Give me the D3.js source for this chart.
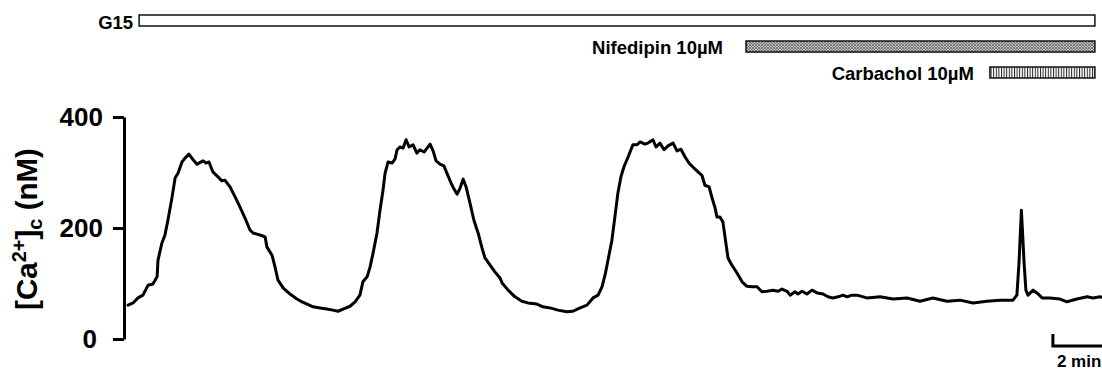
<!DOCTYPE html>
<html>
<head>
<meta charset="utf-8">
<script src="https://cdn.jsdelivr.net/npm/d3@7"></script>
<style>
  html, body { margin: 0; padding: 0; background: #fff; }
  svg { display: block; font-family: "Liberation Sans", Arial, sans-serif; font-weight: bold; }
</style>
</head>
<body>
<svg id="chart" width="1102" height="371"></svg>
<script>
// Cytosolic Ca2+ recording: time in minutes, concentration in nM
const timeMin = [
  0, 0.17, 0.33, 0.5, 0.67, 0.83, 0.97, 1.0, 1.13, 1.23, 1.33, 1.47, 1.57, 1.67, 1.8, 1.9, 2.03,
  2.17, 2.3, 2.5, 2.6, 2.7, 2.83, 3.0, 3.13, 3.23, 3.4, 3.57, 3.73, 3.9, 4.07, 4.17, 4.3, 4.47,
  4.57, 4.63, 4.8, 4.9, 5.0, 5.17, 5.4, 5.63, 5.8, 5.97, 6.17, 6.4, 6.63, 6.83, 7.0, 7.17, 7.4,
  7.57, 7.73, 7.83, 7.97, 8.07, 8.17, 8.3, 8.4, 8.5, 8.57, 8.67, 8.8, 8.9, 8.97, 9.07, 9.17, 9.27,
  9.37, 9.5, 9.63, 9.73, 9.87, 9.97, 10.07, 10.17, 10.27, 10.4, 10.53, 10.63, 10.73, 10.83, 10.97,
  11.07, 11.17, 11.27, 11.4, 11.53, 11.67, 11.8, 11.9, 12.07, 12.23, 12.4, 12.47, 12.67, 12.9,
  13.13, 13.33, 13.63, 13.83, 14.07, 14.33, 14.63, 14.83, 15.07, 15.3, 15.5, 15.67, 15.8, 15.9,
  16.0, 16.13, 16.23, 16.33, 16.43, 16.53, 16.67, 16.83, 16.97, 17.07, 17.23, 17.33, 17.5, 17.6,
  17.73, 17.87, 18.0, 18.17, 18.3, 18.43, 18.57, 18.7, 18.83, 19.0, 19.13, 19.23, 19.37, 19.47,
  19.57, 19.63, 19.73, 19.83, 19.9, 20.0, 20.13, 20.3, 20.47, 20.63, 20.8, 20.97, 21.13, 21.3,
  21.5, 21.67, 21.8, 21.97, 22.07, 22.23, 22.33, 22.47, 22.63, 22.8, 22.97, 23.17, 23.33, 23.5,
  23.67, 23.83, 23.97, 24.13, 24.3, 24.63, 25.07, 25.5, 25.97, 26.4, 26.83, 27.3, 27.73, 28.17,
  28.63, 29.07, 29.5, 29.63, 29.7, 29.78, 29.87, 29.93, 30.0, 30.17, 30.3, 30.47, 30.73, 31.07,
  31.3, 31.63, 31.97, 32.17, 32.4, 32.6
];
const caNM = [
  61, 65, 74, 79, 97, 99, 112, 142, 173, 187, 214, 256, 290, 299, 319, 326, 333,
  323, 315, 321, 317, 319, 301, 292, 285, 286, 274, 256, 238, 218, 196, 191, 189, 186,
  184, 166, 151, 130, 106, 92, 81, 72, 67, 63, 58, 56, 54, 52, 50, 54, 59,
  67, 79, 103, 112, 130, 155, 191, 232, 268, 299, 319, 317, 324, 341, 346, 344, 359,
  346, 350, 335, 341, 337, 344, 351, 339, 321, 315, 312, 299, 286, 274, 261,
  272, 288, 274, 245, 214, 191, 164, 146, 133, 121, 110, 101, 88, 76,
  68, 65, 63, 58, 56, 52, 49, 50, 56, 61, 74, 79, 94, 115,
  142, 178, 220, 263, 292, 310, 328, 350, 350, 355, 351, 353, 359, 346,
  353, 341, 348, 353, 339, 342, 328, 317, 310, 301, 295, 277, 274, 254,
  236, 220, 220, 211, 184, 146, 133, 119, 103, 95, 94, 94, 85, 86,
  88, 86, 90, 86, 79, 85, 81, 86, 81, 88, 83, 81, 76, 74,
  76, 79, 76, 79, 79, 74, 76, 72, 74, 68, 74, 68, 70, 65,
  68, 70, 70, 79, 137, 232, 137, 88, 79, 88, 83, 74, 74, 72,
  67, 72, 76, 74, 76, 74
];

// Y axis ticks
const yTicks = [0, 200, 400];

// Treatment bars: label, start and end time (min)
const treatLabels = ["G15", "Nifedipin 10\u00B5M", "Carbachol 10\u00B5M"];
const treatStart = [0.37, 20.6, 28.73];
const treatEnd = [32.23, 32.23, 32.23];
const treatFills = ["#ffffff", "url(#hatchGray)", "url(#stripesV)"];

// Time scale bar
const scaleBarMin = 2;
const scaleBarStart = 30.83;
const scaleBarLabel = "2 min";

const svg = d3.select("#chart");

const x = d3.scaleLinear().domain([0, 32]).range([128, 1088]);
const y = d3.scaleLinear().domain([0, 400]).range([339, 117]);

// Patterns for the treatment bars
const defs = svg.append("defs");
const pg = defs.append("pattern").attr("id", "hatchGray")
  .attr("patternUnits", "userSpaceOnUse").attr("width", 3).attr("height", 3);
pg.append("rect").attr("width", 3).attr("height", 3).attr("fill", "#bdbdbd");
pg.append("path").attr("d", "M0,0L3,3M3,0L0,3").attr("stroke", "#606060").attr("stroke-width", 0.7);

const ps = defs.append("pattern").attr("id", "stripesV")
  .attr("patternUnits", "userSpaceOnUse").attr("width", 2.6).attr("height", 4);
ps.append("rect").attr("width", 2.6).attr("height", 4).attr("fill", "#ffffff");
ps.append("rect").attr("width", 1).attr("height", 4).attr("fill", "#222");

// Treatment bars
const barTop = [15, 41, 67];
const barH = 11;
const labelBase = [29, 54, 80];
const labelGap = [6, 23, 16];
const treat = svg.append("g");
treatLabels.forEach((lab, i) => {
  treat.append("rect")
    .attr("x", x(treatStart[i]))
    .attr("y", barTop[i])
    .attr("width", x(treatEnd[i]) - x(treatStart[i]))
    .attr("height", barH)
    .attr("fill", treatFills[i])
    .attr("stroke", "#111")
    .attr("stroke-width", 1.5);
  treat.append("text")
    .attr("x", x(treatStart[i]) - labelGap[i])
    .attr("y", labelBase[i])
    .attr("text-anchor", "end")
    .attr("font-size", 18.5)
    .attr("fill", "#000")
    .text(lab);
});

// Y axis
const yAxis = d3.axisLeft(y).tickValues(yTicks).tickSize(11).tickSizeOuter(0).tickPadding(10);
const ax = svg.append("g").attr("transform", "translate(124,0)").call(yAxis);
ax.select(".domain").attr("stroke", "#000").attr("stroke-width", 3);
ax.selectAll(".tick line").attr("stroke", "#000").attr("stroke-width", 3);
ax.selectAll(".tick text")
  .attr("font-size", 26)
  .attr("font-weight", "bold")
  .attr("font-family", "Liberation Sans, Arial, sans-serif")
  .attr("fill", "#000")
  .attr("dx", d => d === 0 ? -6 : 0);

// Y axis title with superscript and subscript
const yt = svg.append("text")
  .attr("transform", "translate(37,229) rotate(-90)")
  .attr("text-anchor", "middle")
  .attr("font-size", 29.5)
  .attr("fill", "#000");
yt.append("tspan").text("[Ca");
yt.append("tspan").attr("font-size", 20).attr("dy", -11).text("2+");
yt.append("tspan").attr("dy", 11).text("]");
yt.append("tspan").attr("font-size", 20).attr("dy", 5).text("c");
yt.append("tspan").attr("dy", -5).text(" (nM)");

// Calcium trace
const pts = timeMin.map((t, i) => [t, caNM[i]]);
const line = d3.line().x(d => x(d[0])).y(d => y(d[1]));
svg.append("path")
  .datum(pts)
  .attr("d", line)
  .attr("fill", "none")
  .attr("stroke", "#000")
  .attr("stroke-width", 3)
  .attr("stroke-linejoin", "round")
  .attr("stroke-linecap", "round");

// Time scale bar
const sbX0 = x(scaleBarStart), sbX1 = x(scaleBarStart + scaleBarMin);
svg.append("path")
  .attr("d", `M${sbX0},334V346H${sbX1}`)
  .attr("fill", "none")
  .attr("stroke", "#000")
  .attr("stroke-width", 3);
svg.append("text")
  .attr("x", sbX0 + 4)
  .attr("y", 367)
  .attr("font-size", 17)
  .attr("fill", "#000")
  .text(scaleBarLabel);
</script>
</body>
</html>
